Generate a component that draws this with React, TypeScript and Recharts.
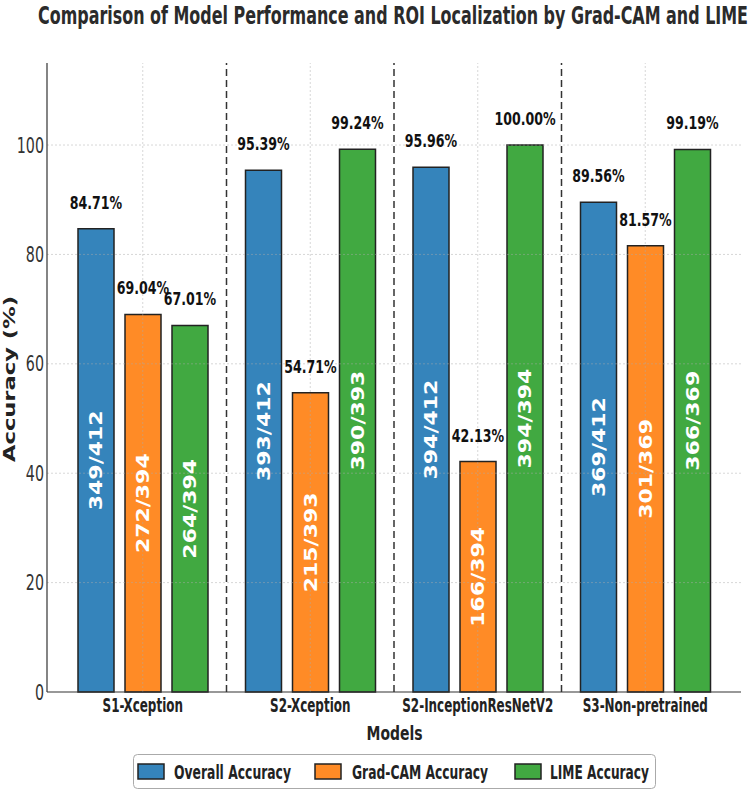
import React from 'react';
import {
  BarChart,
  Bar,
  XAxis,
  YAxis,
  LabelList,
  ReferenceLine,
} from 'recharts';

// Models on the x axis
const MODELS = ['S1-Xception', 'S2-Xception', 'S2-InceptionResNetV2', 'S3-Non-pretrained'];

// Accuracy (%) per model
const OVERALL = [84.71, 95.39, 95.96, 89.56];
const GRADCAM = [69.04, 54.71, 42.13, 81.57];
const LIME = [67.01, 99.24, 100.0, 99.19];

// Correct / total counts written inside the bars
const OVERALL_N = ['349/412', '393/412', '394/412', '369/412'];
const GRADCAM_N = ['272/394', '215/393', '166/394', '301/369'];
const LIME_N = ['264/394', '390/393', '394/394', '366/369'];

const Y_TICKS = [0, 20, 40, 60, 80, 100];

const SERIES = [
  { key: 'overall', countKey: 'overallN', name: 'Overall Accuracy', color: '#3584bb' },
  { key: 'gradcam', countKey: 'gradcamN', name: 'Grad-CAM Accuracy', color: '#ff8b26' },
  { key: 'lime', countKey: 'limeN', name: 'LIME Accuracy', color: '#41a941' },
];

const rows = MODELS.map((model, i) => ({
  model,
  overall: OVERALL[i],
  gradcam: GRADCAM[i],
  lime: LIME[i],
  overallN: OVERALL_N[i],
  gradcamN: GRADCAM_N[i],
  limeN: LIME_N[i],
}));

const FONT = '"DejaVu Sans", sans-serif';

const ValueLabel = (props: any) => {
  const { x, y, width, value } = props;
  const cx = x + width / 2;
  return (
    <text
      transform={`translate(${cx},${y - 20}) scale(0.7,1)`}
      textAnchor="middle"
      fontFamily={FONT}
      fontWeight="bold"
      fontSize={18}
      fill="#111"
    >
      {Number(value).toFixed(2)}%
    </text>
  );
};

const CountLabel = (props: any) => {
  const { x, y, width, height, value } = props;
  const cx = x + width / 2;
  const cy = y + height / 2;
  return (
    <text
      transform={`translate(${cx},${cy}) rotate(-90) scale(1,0.83)`}
      textAnchor="middle"
      dominantBaseline="central"
      fontFamily={FONT}
      fontWeight="bold"
      fontSize={22}
      fill="#fff"
    >
      {value}
    </text>
  );
};

const YTick = (props: any) => {
  const { y, payload } = props;
  return (
    <text
      transform={`translate(44,${y}) scale(0.68,1)`}
      textAnchor="end"
      dominantBaseline="central"
      fontFamily={FONT}
      fontSize={21}
      fill="#333"
    >
      {payload.value}
    </text>
  );
};

const XTick = (props: any) => {
  const { x, y, payload } = props;
  return (
    <text
      transform={`translate(${x},${y + 12}) scale(0.63,1)`}
      textAnchor="middle"
      fontFamily={FONT}
      fontWeight="bold"
      fontSize={19}
      fill="#222"
    >
      {payload.value}
    </text>
  );
};

const Overlay = () => {
  const legendX = [138, 315, 515];
  const legendTextX = [174, 352, 550];
  const legendTextLen = [117, 136, 99];
  return (
    <svg
      width={752}
      height={790}
      style={{ position: 'absolute', left: 0, top: 0, pointerEvents: 'none' }}
    >
      <text
        x={393}
        y={24}
        textAnchor="middle"
        fontFamily={FONT}
        fontWeight="bold"
        fontSize={24}
        fill="#2b2b2b"
        textLength={710}
        lengthAdjust="spacingAndGlyphs"
      >
        Comparison of Model Performance and ROI Localization by Grad-CAM and LIME
      </text>
      <text
        transform="translate(10,379) rotate(-90) scale(1,0.7)"
        textAnchor="middle"
        dominantBaseline="central"
        fontFamily={FONT}
        fontWeight="bold"
        fontSize={23}
        fill="#222"
        textLength={166}
        lengthAdjust="spacingAndGlyphs"
      >
        Accuracy (%)
      </text>
      <text
        x={394.5}
        y={740}
        textAnchor="middle"
        fontFamily={FONT}
        fontWeight="bold"
        fontSize={20}
        fill="#222"
        textLength={56}
        lengthAdjust="spacingAndGlyphs"
      >
        Models
      </text>
      {/* legend */}
      <rect x={133.5} y={754.5} width={522} height={34} rx={4} fill="#fff" stroke="#aaa" strokeWidth={1} />
      {SERIES.map((s, i) => (
        <g key={s.key}>
          <rect x={legendX[i]} y={764} width={26} height={15} fill={s.color} stroke="#222" strokeWidth={1.5} />
          <text
            x={legendTextX[i]}
            y={779}
            fontFamily={FONT}
            fontWeight="bold"
            fontSize={20}
            fill="#222"
            textLength={legendTextLen[i]}
            lengthAdjust="spacingAndGlyphs"
          >
            {s.name}
          </text>
        </g>
      ))}
    </svg>
  );
};

const GRID = { stroke: '#aaa', strokeOpacity: 0.6, strokeDasharray: '2 2', strokeWidth: 0.8 };

export default function App() {
  return (
    <div style={{ position: 'absolute', left: 0, top: 0, width: 752, height: 790, background: '#fff' }}>
      <BarChart
        width={752}
        height={790}
        data={rows}
        margin={{ top: 63, right: 11, left: 0, bottom: 0 }}
        barSize={36}
        barGap={11}
      >
        <XAxis
          dataKey="model"
          height={98}
          padding={{ left: 12, right: 12 }}
          axisLine={{ stroke: '#333', strokeWidth: 1.2 }}
          tickLine={false}
          tick={<XTick />}
          interval={0}
        />
        <YAxis
          width={47}
          domain={[0, 115]}
          ticks={Y_TICKS}
          axisLine={{ stroke: '#333', strokeWidth: 1.2 }}
          tickLine={false}
          tick={<YTick />}
        />
        {SERIES.map((s) => (
          <Bar
            key={s.key}
            dataKey={s.key}
            name={s.name}
            fill={s.color}
            stroke="#222"
            strokeWidth={1.5}
            isAnimationActive={false}
          >
            <LabelList dataKey={s.key} content={<ValueLabel />} />
            <LabelList dataKey={s.countKey} content={<CountLabel />} />
          </Bar>
        ))}
        {/* light grid drawn over the bars */}
        {Y_TICKS.slice(1).map((t) => (
          <ReferenceLine key={`gy-${t}`} y={t} {...GRID} />
        ))}
        {MODELS.map((m) => (
          <ReferenceLine key={`gx-${m}`} x={m} {...GRID} />
        ))}
        {/* group separators at the start of each later band */}
        {MODELS.slice(1).map((m) => (
          <ReferenceLine
            key={m}
            x={m}
            position="start"
            stroke="#333"
            strokeWidth={1.5}
            strokeDasharray="7 4"
          />
        ))}
      </BarChart>
      <Overlay />
    </div>
  );
}
